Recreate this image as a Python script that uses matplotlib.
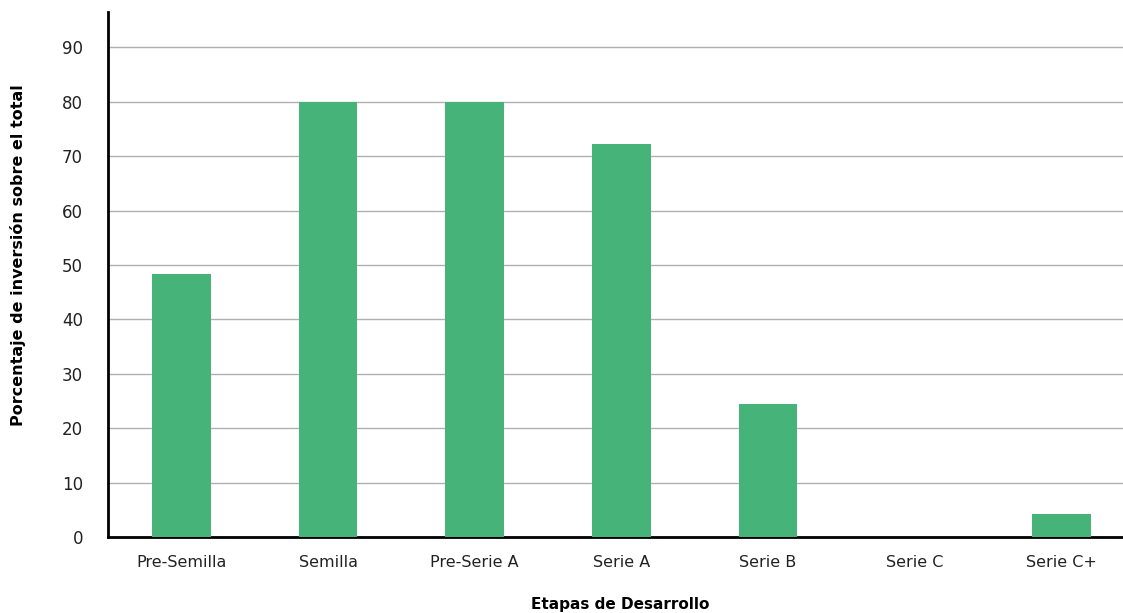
import matplotlib
matplotlib.use("Agg")
import matplotlib.pyplot as plt

etapas = ["Pre-Semilla", "Semilla", "Pre-Serie A", "Serie A", "Serie B", "Serie C", "Serie C+"]
porcentaje = [48.3, 80.0, 80.0, 72.2, 24.4, 0.0, 4.2]
yticks = [0, 10, 20, 30, 40, 50, 60, 70, 80, 90]

plt.rcParams['font.family'] = ['DejaVu Sans']

fig = plt.figure(figsize=(11.23, 6.13), dpi=100)
ax = fig.add_axes([108 / 1123, 76 / 613, 1 - 108 / 1123, 525 / 613])

x = range(len(etapas))
ax.bar(x, porcentaje, width=0.4, color="#46b378", zorder=3)

ax.set_xlim(-0.5, 6.42)
ax.set_ylim(0, 96.5)
ax.set_yticks(yticks)
ax.set_xticks(list(x))
ax.set_xticklabels(etapas, fontsize=11.5, color="#222222")
ax.tick_params(axis="y", labelsize=12, labelcolor="#222222", length=0, pad=18)
ax.tick_params(axis="x", length=0, pad=13)

ax.yaxis.grid(True, color="#b0b0b0", linewidth=1, zorder=0)
for s in ["top", "right"]:
    ax.spines[s].set_visible(False)
ax.spines["left"].set_linewidth(2)
ax.spines["bottom"].set_linewidth(2)

fig.text(18 / 1123, (613 - 255) / 613, "Porcentaje de inversión sobre el total",
         rotation=90, ha="center", va="center", fontsize=11.5, fontweight="bold")
fig.text(620 / 1123, 8 / 613, "Etapas de Desarrollo", ha="center", va="center",
         fontsize=11, fontweight="bold")

fig.savefig("out.png", dpi=100)
